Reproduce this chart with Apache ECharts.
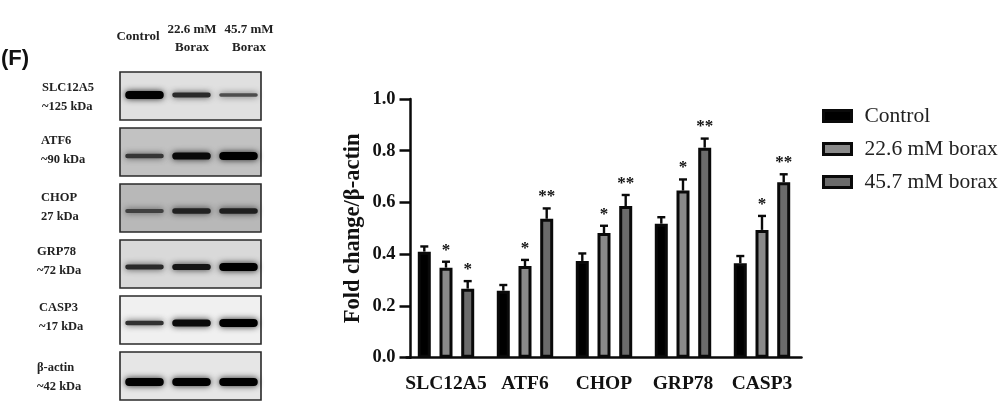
<!DOCTYPE html>
<html><head><meta charset="utf-8">
<style>html,body{margin:0;padding:0;background:#fff}#c{width:1002px;height:404px}</style>
<script src="https://cdn.jsdelivr.net/npm/echarts@6/dist/echarts.min.js"></script>
</head><body><div id="c"></div>
<script>
const categories = ['SLC12A5','ATF6','CHOP','GRP78','CASP3'];
const seriesNames = ['Control','22.6 mM borax','45.7 mM borax'];
const controlValues = [0.41,0.259,0.374,0.518,0.365];
const borax226Values = [0.348,0.354,0.482,0.646,0.494];
const borax457Values = [0.267,0.537,0.586,0.812,0.678];
const controlTops = [0.43,0.281,0.403,0.543,0.393];
const borax226Tops = [0.371,0.378,0.51,0.689,0.548];
const borax457Tops = [0.296,0.577,0.629,0.847,0.709];
const borax226Stars = ['*','*','*','*','*'];
const borax457Stars = ['*','**','**','**','**'];

const blotRows = ['SLC12A5\n~125 kDa','ATF6\n~90 kDa','CHOP\n27 kDa','GRP78\n~72 kDa','CASP3\n~17 kDa','β-actin\n~42 kDa'];
const blotLanes = ['Control','22.6 mM\nBorax','45.7 mM\nBorax'];
const blotBackground = [0.88,0.76,0.72,0.85,0.94,0.90];
const blotIntensity = [
  [0.98,0.62,0.30],
  [0.52,0.92,1.00],
  [0.42,0.70,0.72],
  [0.62,0.80,1.00],
  [0.55,0.90,1.00],
  [0.98,1.00,1.00]
];

const SERIF = '"Liberation Serif","Times New Roman",serif';
const colors = ['#000000','#8a8a8a','#6b6b6b'];
const stroke = '#0a0a0a';

function barSeries(i, vals){
  return {type:'bar',name:seriesNames[i],data:vals,barWidth:13,barGap:'67%',
    itemStyle:{color:colors[i],borderColor:stroke,borderWidth:3},z:3};
}
function errSeries(i, vals, tops, stars){
  const off = (i-1)*21.7;
  return {type:'custom',xAxisIndex:0,yAxisIndex:0,z:2,silent:true,
    data:vals.map((v,k)=>[k,v,tops[k],stars?stars[k]:'']),
    encode:{x:0,y:1},
    renderItem(p,api){
      const c=api.value(0),b=api.coord([c,api.value(1)]),t=api.coord([c,api.value(2)]);
      const x=b[0]+off, s=api.value(3);
      const st={stroke:stroke,lineWidth:2.4};
      const ch=[
        {type:'line',shape:{x1:x,y1:b[1],x2:x,y2:t[1]},style:st},
        {type:'line',shape:{x1:x-4,y1:t[1],x2:x+4,y2:t[1]},style:st}
      ];
      if(s) ch.push({type:'text',style:{text:s,x:x,y:t[1]-3,align:'center',verticalAlign:'bottom',
        font:'bold 17px '+SERIF,fill:'#111'}});
      return {type:'group',children:ch};
    }};
}
function panelSeries(){
  return {type:'custom',xAxisIndex:1,yAxisIndex:1,z:1,silent:true,
    data:blotRows.map((r,k)=>[1,k,blotBackground[k]]),encode:{x:0,y:1},
    renderItem(p,api){
      const c=api.coord([api.value(0),api.value(1)]);
      const w=api.size([1,0])[0]*3, h=api.size([0,1])[1];
      const g=Math.round(api.value(2)*255);
      return {type:'rect',shape:{x:c[0]-w/2,y:c[1]-h/2+4,width:w,height:h-8},
        style:{fill:`rgb(${g},${g},${g})`,stroke:'#2a2a2a',lineWidth:1.6}};
    }};
}
function bandSeries(){
  const d=[], rowNudge=[-1,4,3,3,3,6];
  blotIntensity.forEach((r,k)=>r.forEach((v,l)=>d.push([l,k,v,rowNudge[k]])));
  return {type:'custom',xAxisIndex:1,yAxisIndex:1,z:2,silent:true,data:d,encode:{x:0,y:1},
    renderItem(p,api){
      const c=api.coord([api.value(0),api.value(1)]), v=api.value(2);
      const w=api.size([1,0])[0]*0.82, t=3+5*v*v;
      const g=Math.round(110*(1-v));
      return {type:'rect',shape:{x:c[0]+1-w/2,y:c[1]+api.value(3)-t/2,width:w,height:t,r:t/2},
        style:{fill:`rgb(${g},${g},${g})`,shadowBlur:6,shadowColor:`rgba(${g},${g},${g},0.85)`}};
    }};
}
function rowLabelSeries(){
  const dx=[42,41,41,37,39,37], dy=[1,-2,-1,-3,-3,1];
  return {type:'custom',xAxisIndex:1,yAxisIndex:1,z:2,silent:true,clip:false,
    data:blotRows.map((r,k)=>[0,k]),encode:{x:0,y:1},
    renderItem(p,api){
      const k=api.value(1), c=api.coord([0,k]);
      return {type:'text',style:{text:blotRows[k],x:dx[k],y:c[1]+dy[k],verticalAlign:'middle',
        font:'bold 12.5px '+SERIF,lineHeight:19,fill:'#222'}};
    }};
}
const chart = echarts.init(document.getElementById('c'),null,{renderer:'canvas'});
const bold = {fontFamily:SERIF,fontWeight:'bold',color:'#111'};
const laneFont = 'bold 13px '+SERIF;
chart.setOption({
  animation:false,backgroundColor:'#fff',
  legend:{data:seriesNames,left:817,top:100,orient:'vertical',icon:'rect',itemWidth:28,itemHeight:11,itemGap:11,
    textStyle:{fontFamily:SERIF,fontSize:21.5,color:'#222',padding:[0,0,0,8]},selectedMode:false,
    itemStyle:{borderColor:stroke,borderWidth:3}},
  grid:[
    {left:406.5,top:99,width:395,height:258.7},
    {left:120,top:68,width:141,height:339}
  ],
  xAxis:[
    {type:'category',gridIndex:0,data:categories,
     axisLine:{lineStyle:{color:stroke,width:2.5}},
     axisTick:{alignWithLabel:true,length:10,lineStyle:{color:stroke,width:2.5}},
     axisLabel:{...bold,fontSize:19.5,margin:16,interval:0}},
    {type:'category',gridIndex:1,data:blotLanes,show:false}
  ],
  yAxis:[
    {type:'value',gridIndex:0,min:0,max:1,interval:0.2,offset:-4,
     name:'Fold change/β-actin',nameLocation:'middle',nameGap:46,
     nameTextStyle:{...bold,fontSize:22.5},
     axisLine:{show:true,lineStyle:{color:stroke,width:2.5}},
     axisTick:{show:true,length:11,lineStyle:{color:stroke,width:2.5}},
     splitLine:{show:false},
     axisLabel:{...bold,fontSize:18.5,margin:15,formatter:v=>v.toFixed(1)}},
    {type:'category',gridIndex:1,data:blotRows,inverse:true,show:false}
  ],
  series:[
    barSeries(0,controlValues),barSeries(1,borax226Values),barSeries(2,borax457Values),
    errSeries(0,controlValues,controlTops,null),
    errSeries(1,borax226Values,borax226Tops,borax226Stars),
    errSeries(2,borax457Values,borax457Tops,borax457Stars),
    panelSeries(),bandSeries(),rowLabelSeries()
  ],
  graphic:[
    {type:'text',x:1,y:48,style:{text:'(F)',font:'bold 22px "Liberation Sans",Arial,sans-serif',fill:'#111'}},
    {type:'text',x:138,y:30,style:{text:blotLanes[0],font:laneFont,fill:'#222',align:'center'}},
    {type:'text',x:192,y:20,style:{text:blotLanes[1],font:laneFont,fill:'#222',align:'center',lineHeight:18.5}},
    {type:'text',x:249,y:20,style:{text:blotLanes[2],font:laneFont,fill:'#222',align:'center',lineHeight:18.5}}
  ]
});
</script></body></html>
